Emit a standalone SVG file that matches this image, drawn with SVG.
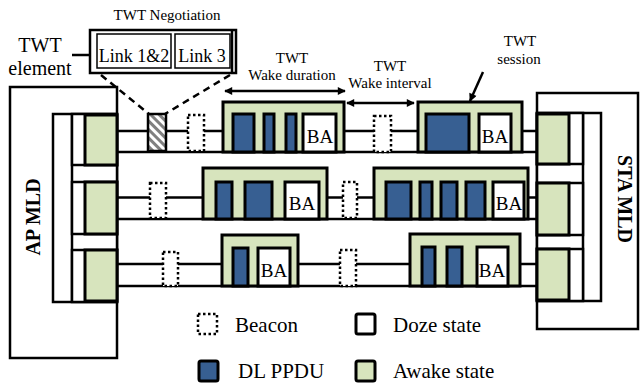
<svg xmlns="http://www.w3.org/2000/svg" width="640" height="384" viewBox="0 0 640 384" font-family="'Liberation Serif', 'Times New Roman', serif">
<style>
.s{stroke:#000;stroke-width:2.5;fill:#fff}
.g{fill:#d7e4bd;stroke:#000;stroke-width:3}
.b{fill:#375f92;stroke:#000;stroke-width:3}
.w{fill:#fff;stroke:#000;stroke-width:3}
.bc{fill:#fff;stroke:#000;stroke-width:2.5;stroke-dasharray:2.5,2.5}
.ln{stroke:#000;stroke-width:2.5;fill:none}
text{font-family:'Liberation Serif','Times New Roman',serif;fill:#000}
.ba{font-size:19px;text-anchor:middle}
</style>
<defs>
<marker id="ah" viewBox="0 0 10 10" refX="9" refY="5" markerWidth="10" markerHeight="8" markerUnits="userSpaceOnUse" orient="auto-start-reverse"><path d="M0,0L10,5L0,10z" fill="#000"/></marker>
<pattern id="hatch" width="6" height="6" patternUnits="userSpaceOnUse" patternTransform="rotate(-45)"><rect width="6" height="6" fill="#fff"/><rect width="3" height="6" fill="#808080"/></pattern>
</defs>

<g id="connectors">
<line class="ln" x1="117" y1="131" x2="537" y2="131"/>
<line class="ln" x1="117" y1="152" x2="537" y2="152"/>
<line class="ln" x1="117" y1="197.5" x2="537" y2="197.5"/>
<line class="ln" x1="117" y1="219" x2="537" y2="219"/>
<line class="ln" x1="117" y1="264" x2="537" y2="264"/>
<line class="ln" x1="117" y1="286" x2="537" y2="286"/>
<line class="ln" stroke-dasharray="7,5" x1="101" y1="75" x2="149" y2="114"/>
<line class="ln" stroke-dasharray="7,5" x1="230" y1="75" x2="165" y2="114"/>
<line class="ln" x1="72" y1="55" x2="90" y2="55"/>
<line class="ln" marker-start="url(#ah)" marker-end="url(#ah)" x1="225" y1="91" x2="345" y2="91"/>
<line class="ln" marker-start="url(#ah)" marker-end="url(#ah)" x1="347" y1="103" x2="414" y2="103"/>
<line class="ln" marker-end="url(#ah)" x1="483" y1="72" x2="470" y2="101"/>
</g>

<g id="ap-mld">
<rect class="s" x="10" y="87" width="107" height="271"/>
<rect class="s" x="53" y="114" width="64" height="188"/>
<line class="ln" x1="72" y1="114" x2="72" y2="302"/>
<rect class="s" x="72" y="114" width="45" height="51"/>
<rect class="g" x="85" y="115" width="32" height="50"/>
<rect class="s" x="72" y="182" width="45" height="52"/>
<rect class="g" x="85" y="182" width="32" height="52"/>
<rect class="s" x="72" y="250" width="45" height="52"/>
<rect class="g" x="85" y="250" width="32" height="51"/>
<text font-size="20" font-weight="bold" text-anchor="middle" transform="translate(40,217) rotate(-90)">AP MLD</text>
</g>

<g id="sta-mld">
<rect class="s" x="537" y="93" width="101" height="236"/>
<rect class="s" x="537" y="113" width="64" height="188"/>
<line class="ln" x1="583" y1="113" x2="583" y2="301"/>
<rect class="s" x="537" y="113" width="46" height="51"/>
<rect class="g" x="537" y="114" width="32" height="50"/>
<rect class="s" x="537" y="183" width="46" height="52"/>
<rect class="g" x="537" y="183" width="32" height="52"/>
<rect class="s" x="537" y="249" width="46" height="52"/>
<rect class="g" x="537" y="249" width="32" height="51"/>
<text font-size="20" font-weight="bold" text-anchor="middle" transform="translate(618,199) rotate(90)">STA MLD</text>
</g>

<g id="twt-negotiation">
<text font-size="15" text-anchor="middle" x="167" y="20">TWT Negotiation</text>
<rect class="s" x="90" y="30" width="146" height="43"/>
<line class="ln" x1="232" y1="30" x2="232" y2="73"/>
<rect fill="#fff" stroke="#000" stroke-width="1.5" x="97" y="34" width="74" height="34"/>
<rect fill="#fff" stroke="#000" stroke-width="1.5" x="175" y="34" width="55" height="34"/>
<text font-size="18" text-anchor="middle" x="134" y="62">Link 1&amp;2</text>
<text font-size="18" text-anchor="middle" x="202" y="62">Link 3</text>
</g>

<g id="twt-element">
<text font-size="20" text-anchor="middle" x="40" y="52">TWT</text>
<text font-size="20" text-anchor="middle" x="40" y="75">element</text>
<rect x="148" y="114" width="18" height="37" fill="url(#hatch)" stroke="#000" stroke-width="2.5"/>
</g>

<g id="labels">
<text font-size="15" text-anchor="middle" x="292" y="63">TWT</text>
<text font-size="15" text-anchor="middle" x="292" y="80">Wake duration</text>
<text font-size="15" text-anchor="middle" x="390" y="71">TWT</text>
<text font-size="15" text-anchor="middle" x="390" y="88">Wake interval</text>
<text font-size="15" text-anchor="middle" x="520" y="46">TWT</text>
<text font-size="15" text-anchor="middle" x="519" y="64">session</text>
</g>

<g id="beacons">
<rect class="bc" x="188" y="115" width="16" height="36"/>
<rect class="bc" x="374" y="116" width="17" height="36"/>
<rect class="bc" x="150" y="183" width="16" height="35"/>
<rect class="bc" x="343" y="182" width="14" height="36"/>
<rect class="bc" x="163" y="252" width="15" height="34"/>
<rect class="bc" x="340" y="250" width="16" height="36"/>
</g>

<g id="session-row1-a">
<rect class="g" x="223" y="102" width="121" height="50"/>
<rect class="b" x="233" y="114" width="21" height="38"/>
<rect class="b" x="264" y="114" width="10" height="38"/>
<rect class="b" x="286" y="114" width="10" height="38"/>
<rect class="w" x="303" y="114" width="33" height="38"/>
<text class="ba" x="320" y="143">BA</text>
</g>
<g id="session-row1-b">
<rect class="g" x="418" y="102" width="104" height="50"/>
<rect class="b" x="426" y="114" width="43" height="38"/>
<rect class="w" x="479" y="114" width="32" height="38"/>
<text class="ba" x="495" y="143">BA</text>
</g>
<g id="session-row2-a">
<rect class="g" x="203" y="168" width="124" height="51"/>
<rect class="b" x="216" y="182" width="16" height="37"/>
<rect class="b" x="245" y="182" width="27" height="37"/>
<rect class="w" x="285" y="182" width="34" height="37"/>
<text class="ba" x="302" y="210">BA</text>
</g>
<g id="session-row2-b">
<rect class="g" x="374" y="168" width="154" height="51"/>
<rect class="b" x="386" y="182" width="25" height="37"/>
<rect class="b" x="420" y="182" width="12" height="37"/>
<rect class="b" x="441" y="182" width="16" height="37"/>
<rect class="b" x="466" y="182" width="19" height="37"/>
<rect class="w" x="493" y="182" width="31" height="37"/>
<text class="ba" x="509" y="210">BA</text>
</g>
<g id="session-row3-a">
<rect class="g" x="222" y="235" width="76" height="51"/>
<rect class="b" x="233" y="248" width="15" height="38"/>
<rect class="w" x="258" y="248" width="32" height="38"/>
<text class="ba" x="274" y="277">BA</text>
</g>
<g id="session-row3-b">
<rect class="g" x="410" y="234" width="110" height="52"/>
<rect class="b" x="422" y="247" width="13" height="39"/>
<rect class="b" x="447" y="247" width="15" height="39"/>
<rect class="w" x="477" y="247" width="31" height="39"/>
<text class="ba" x="492" y="277">BA</text>
</g>

<g id="legend">
<rect class="bc" x="198" y="314" width="19" height="20" stroke-width="3"/>
<text font-size="21" x="235" y="332">Beacon</text>
<rect class="w" x="356" y="314" width="19" height="20" rx="2"/>
<text font-size="21" x="393" y="332">Doze state</text>
<rect class="b" x="199" y="361" width="19" height="20" rx="2"/>
<text font-size="21" x="238" y="378">DL PPDU</text>
<rect class="g" x="356" y="361" width="19" height="20" rx="2"/>
<text font-size="21" x="393" y="378">Awake state</text>
</g>
</svg>
